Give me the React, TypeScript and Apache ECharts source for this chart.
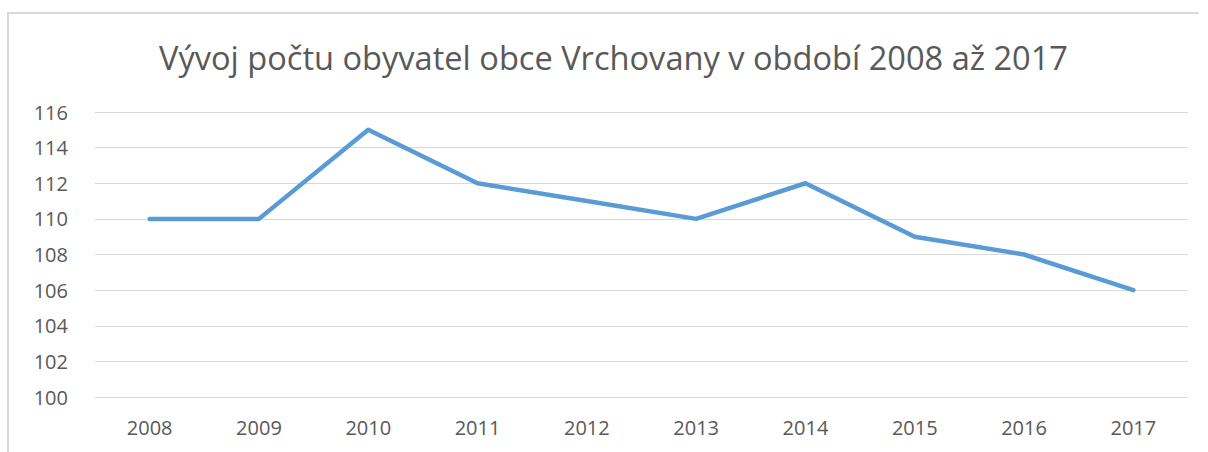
import React, { useEffect, useRef } from "react";
import * as echarts from "echarts";

const titleText = "Vývoj počtu obyvatel obce Vrchovany v období 2008 až 2017";
const years = ["2008", "2009", "2010", "2011", "2012", "2013", "2014", "2015", "2016", "2017"];
const population = [110, 110, 115, 112, 111, 110, 112, 109, 108, 106];
const yMin = 100;
const yMax = 116;
const yStep = 2;

export default function App() {
  const ref = useRef<HTMLDivElement>(null);
  useEffect(() => {
    if (!ref.current) return;
    const chart = echarts.init(ref.current, undefined, { renderer: "svg" });
    chart.setOption({
      animation: false,
      backgroundColor: "#ffffff",
      title: {
        text: titleText,
        left: 154,
        top: 36,
        textStyle: {
          fontFamily: "Open Sans",
          fontSize: 32.6,
          fontWeight: "normal",
          color: "#595959",
        },
      },
      graphic: [
        {
          type: "line",
          shape: { x1: 8, y1: 12, x2: 8, y2: 460 },
          style: { stroke: "#d9d9d9", lineWidth: 2 },
          silent: true,
        },
        {
          type: "line",
          shape: { x1: 7, y1: 13, x2: 1199, y2: 13 },
          style: { stroke: "#d9d9d9", lineWidth: 2 },
          silent: true,
        },
      ],
      grid: { left: 95, right: 20, top: 112, bottom: 55 },
      xAxis: {
        type: "category",
        data: years,
        boundaryGap: true,
        axisLine: { show: false },
        axisTick: { show: false },
        axisLabel: {
          margin: 20,
          fontFamily: "Open Sans",
          fontSize: 20,
          color: "#595959",
        },
      },
      yAxis: {
        type: "value",
        min: yMin,
        max: yMax,
        interval: yStep,
        axisLine: { show: false },
        axisTick: { show: false },
        splitLine: { lineStyle: { color: "#d9d9d9", width: 1 } },
        axisLabel: {
          margin: 27,
          fontFamily: "Open Sans",
          fontSize: 20,
          color: "#595959",
        },
      },
      series: [
        {
          type: "line",
          data: population,
          symbol: "none",
          lineStyle: { color: "#5b9bd5", width: 4.5, cap: "round", join: "round" },
          itemStyle: { color: "#5b9bd5" },
        },
      ],
    });
    return () => chart.dispose();
  }, []);
  return (
    <div
      ref={ref}
      style={{ position: "absolute", left: 0, top: 0, width: 1208, height: 452, overflow: "hidden" }}
    />
  );
}
